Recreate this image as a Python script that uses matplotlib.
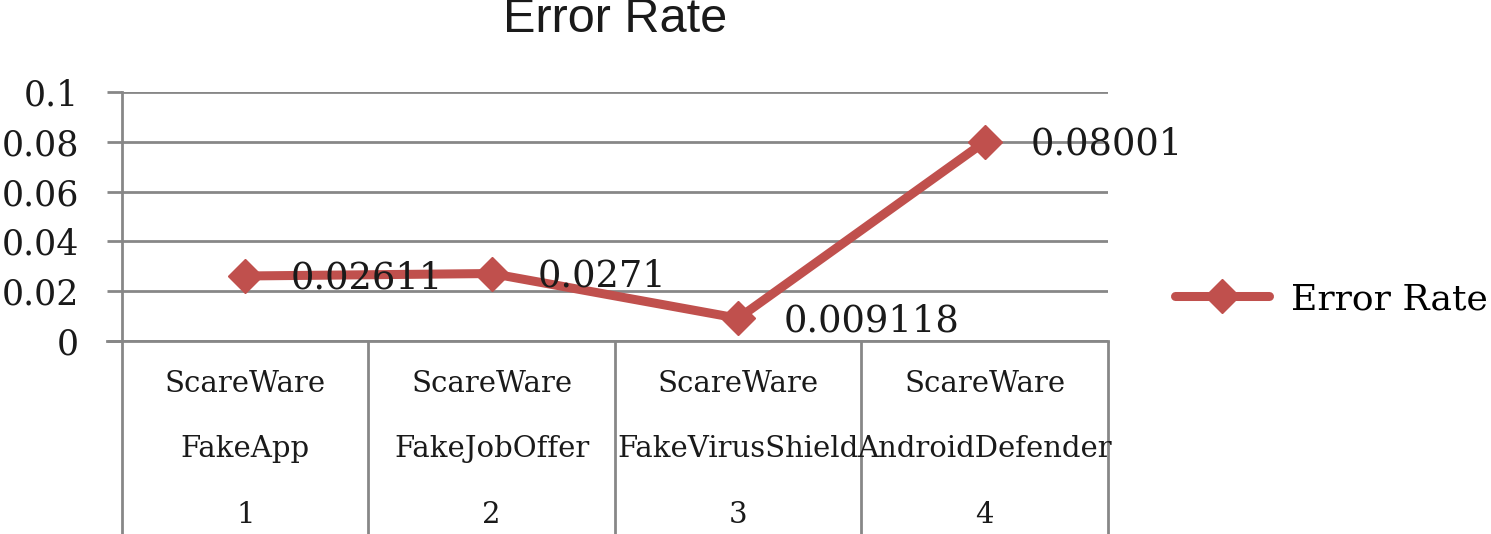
import matplotlib.pyplot as plt

groups = ["ScareWare", "ScareWare", "ScareWare", "ScareWare"]
names = ["FakeApp", "FakeJobOffer", "FakeVirusShield", "AndroidDefender"]
numbers = ["1", "2", "3", "4"]
error_rate = [0.02611, 0.0271, 0.009118, 0.08001]
value_labels = ["0.02611", "0.0271", "0.009118", "0.08001"]
yticks = [0, 0.02, 0.04, 0.06, 0.08, 0.1]
ytick_labels = ["0", "0.02", "0.04", "0.06", "0.08", "0.1"]

red = "#C0504D"
grid_gray = "#878787"
txt = "#1a1a1a"
serif = "DejaVu Serif"

fig = plt.figure(figsize=(14.91, 5.34), dpi=100)
ax = fig.add_axes([122 / 1491, 1 - 341 / 534, 986 / 1491, 249 / 534])

x = [i + 0.5 for i in range(len(error_rate))]
ax.plot(x, error_rate, color=red, lw=6.5, marker="D", markersize=17,
        label="Error Rate", zorder=3, clip_on=False, solid_capstyle="round")

for xi, yi, lab in zip(x, error_rate, value_labels):
    ax.annotate(lab, (xi, yi), xytext=(33, -2), textcoords="offset points",
                ha="left", va="center", fontsize=26.5, family=serif,
                color=txt, zorder=4)

ax.set_xlim(0, len(error_rate))
ax.set_ylim(0, 0.1)
ax.set_yticks(yticks)
ax.set_yticklabels(ytick_labels, family=serif, fontsize=25, color=txt)
ax.set_xticks([])
ax.yaxis.grid(True, color=grid_gray, lw=2)
ax.set_axisbelow(True)
ax.tick_params(axis="y", length=11, width=2, color=grid_gray, pad=20)

for side in ["top", "right"]:
    ax.spines[side].set_visible(False)
for side in ["left", "bottom"]:
    ax.spines[side].set_color(grid_gray)
    ax.spines[side].set_linewidth(2)

# multi-level category axis
trans = ax.get_xaxis_transform()
ax.vlines(range(len(error_rate) + 1), -0.8, 0, transform=trans,
          color=grid_gray, lw=2, clip_on=False)
ax.plot([-15 / 986 * len(error_rate), 0], [0, 0], transform=trans,
        color=grid_gray, lw=2, clip_on=False)
for xi, g, n, num in zip(x, groups, names, numbers):
    ax.text(xi, -0.173, g, transform=trans, ha="center", va="center",
            fontsize=21, family=serif, color=txt)
    ax.text(xi, -0.434, n, transform=trans, ha="center", va="center",
            fontsize=21, family=serif, color=txt)
    ax.text(xi, -0.699, num, transform=trans, ha="center", va="center",
            fontsize=21, family=serif, color=txt)

fig.text(615 / 1491, 1 - 20 / 534, "Error Rate", ha="center", va="center",
         fontsize=35, family="Liberation Sans", color=txt)

leg = fig.legend(loc="center left", bbox_to_anchor=(1175 / 1491, 1 - 299 / 534),
                 frameon=False, prop={"family": serif, "size": 26},
                 handlelength=2.6, handletextpad=0.6, borderpad=0,
                 borderaxespad=0)

fig.savefig("out.png", dpi=100)
